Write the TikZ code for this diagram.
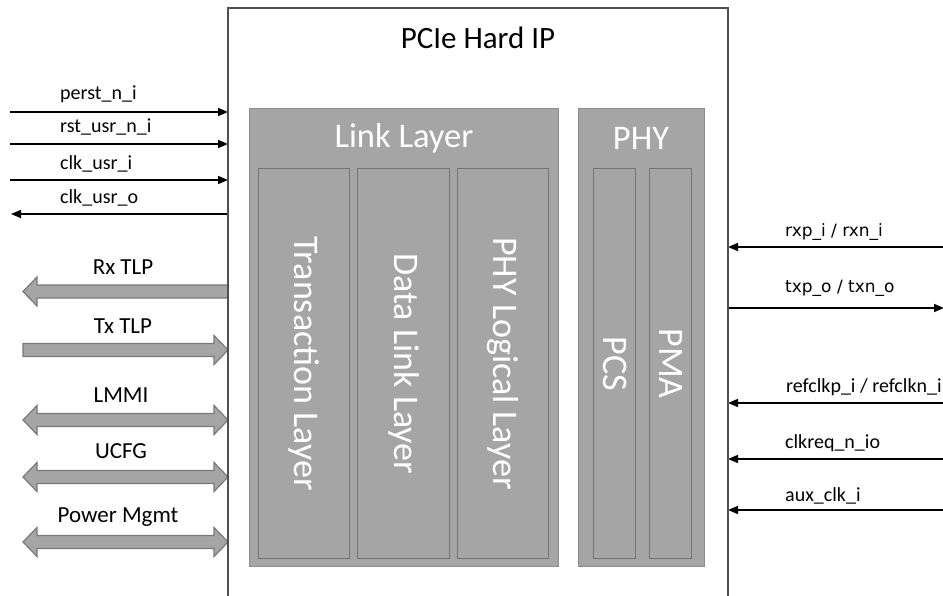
\documentclass[tikz,border=0pt]{standalone}
\usepackage{fontspec}
\setmainfont{Carlito}
\newfontfamily\dejavu{DejaVu Sans}
\usetikzlibrary{arrows.meta,calc}
\definecolor{boxgray}{HTML}{A5A5A5}
\definecolor{edgegray}{HTML}{747474}
\definecolor{outergray}{HTML}{8C8C8C}
\definecolor{framegray}{HTML}{505050}
\newcommand\fsz[1]{\fontsize{#1}{#1}\selectfont}
\newcommand\busLeft[1]{%
  \path[busarrow] (228,#1-6.5) -- (37,#1-6.5) -- (37,#1-14.5) -- (23,#1) -- (37,#1+14.5) -- (37,#1+6.5) -- (228,#1+6.5) -- cycle;}
\newcommand\busRight[1]{%
  \path[busarrow] (23,#1-6.5) -- (214,#1-6.5) -- (214,#1-14.5) -- (228,#1) -- (214,#1+14.5) -- (214,#1+6.5) -- (23,#1+6.5) -- cycle;}
\newcommand\busBoth[1]{%
  \path[busarrow] (37,#1-6.5) -- (214,#1-6.5) -- (214,#1-14.5) -- (228,#1) -- (214,#1+14.5) -- (214,#1+6.5) -- (37,#1+6.5) -- (37,#1+14.5) -- (23,#1) -- (37,#1-14.5) -- cycle;}
\begin{document}
\begin{tikzpicture}[x=1pt,y=-1pt,
  blk/.style={draw=#1, fill=boxgray, line width=1.3pt, inner sep=0pt, anchor=north west},
  frame/.style={draw=framegray, line width=1.2pt, inner sep=0pt, anchor=north west, minimum width=500pt, minimum height=620pt},
  sig/.style={line width=1.6pt, -{Triangle[length=10pt,width=8pt]}},
  busarrow/.style={fill=boxgray, draw=gray!95!black, line width=1.2pt},
  lbl/.style={inner sep=0pt, anchor=west, font=\fsz{20}},
  rlbl/.style={inner sep=0pt, anchor=west, font=\dejavu\fsz{17}},
  buslbl/.style={inner sep=0pt, font=\fsz{23}},
  wtxt/.style={text=white, inner sep=0pt, font=\fsz{34.5}},
  vtxt/.style={text=white, inner sep=0pt, font=\fsz{36}, rotate=-90},
]
\useasboundingbox (0,0) rectangle (943,595);
\fill[white] (0,0) rectangle (943,595);

% main frame
\node[frame] (hip) at (228,8) {};
\node[inner sep=0pt, font=\fsz{31}] (hiptitle) at (478,38) {PCIe Hard IP};

% link layer
\node[blk=outergray, minimum width=309pt, minimum height=458pt] (link) at (249,108) {};
\node[wtxt] (linkt) at (404,138) {Link Layer};
\node[blk=edgegray, minimum width=91pt, minimum height=390pt] (trans) at (258,168) {};
\node[blk=edgegray, minimum width=92pt, minimum height=390pt] (dll) at (357,168) {};
\node[blk=edgegray, minimum width=91pt, minimum height=390pt] (phyl) at (457,168) {};
\node[vtxt] (transt) at (trans.center) {Transaction Layer};
\node[vtxt] (dllt) at (dll.center) {Data Link Layer};
\node[vtxt] (phylt) at (phyl.center) {PHY Logical Layer};

% PHY
\node[blk=outergray, minimum width=126pt, minimum height=458pt] (phy) at (578,108) {};
\node[wtxt] (phyt) at (641,138) {PHY};
\node[blk=edgegray, minimum width=42pt, minimum height=390pt] (pcs) at (593,168) {};
\node[blk=edgegray, minimum width=42pt, minimum height=390pt] (pma) at (649,168) {};
\node[vtxt] (pcst) at (pcs.center) {PCS};
\node[vtxt] (pmat) at (pma.center) {PMA};

% left thin signals
\coordinate (a1) at (10,112);  \coordinate (b1) at (228,112);
\coordinate (a2) at (10,144);  \coordinate (b2) at (228,144);
\coordinate (a3) at (10,180);  \coordinate (b3) at (228,180);
\coordinate (a4) at (11,214);  \coordinate (b4) at (228,214);
\draw[sig] (a1) -- (b1);
\draw[sig] (a2) -- (b2);
\draw[sig] (a3) -- (b3);
\draw[sig] (b4) -- (a4);
\node[lbl] (l1) at (60,94) {perst\_n\_i};
\node[lbl] (l2) at (60,127) {rst\_usr\_n\_i};
\node[lbl] (l3) at (60,164) {clk\_usr\_i};
\node[lbl] (l4) at (60,198) {clk\_usr\_o};

% bus arrows
\busLeft{291.5}
\busRight{350}
\busBoth{420}
\busBoth{477}
\busBoth{542}
\node[buslbl] (rxtlp) at (123,267) {Rx TLP};
\node[buslbl] (txtlp) at (123,326) {Tx TLP};
\node[buslbl] (lmmi) at (121,395) {LMMI};
\node[buslbl] (ucfg) at (121,451) {UCFG};
\node[buslbl] (pwr) at (118,517) {Power Mgmt};

% right thin signals
\coordinate (c1) at (943,247); \coordinate (d1) at (728,247);
\coordinate (c2) at (944,308); \coordinate (d2) at (728,308);
\coordinate (c3) at (943,403); \coordinate (d3) at (728,403);
\coordinate (c4) at (943,459); \coordinate (d4) at (728,459);
\coordinate (c5) at (943,510); \coordinate (d5) at (728,510);
\draw[sig] (c1) -- (d1);
\draw[sig] (d2) -- (c2);
\draw[sig] (c3) -- (d3);
\draw[sig] (c4) -- (d4);
\draw[sig] (c5) -- (d5);
\node[rlbl] (r1) at (785,232) {rxp\_i / rxn\_i};
\node[rlbl] (r2) at (785,288) {txp\_o / txn\_o};
\node[lbl] (r3) at (786,387) {refclkp\_i / refclkn\_i};
\node[lbl] (r4) at (785,443) {clkreq\_n\_io};
\node[lbl] (r5) at (785,496) {aux\_clk\_i};

% redraw frame edges over arrows
\draw[framegray, line width=1.2pt] (228,600) -- (228,8) -- (728,8) -- (728,600);
\end{tikzpicture}
\end{document}
